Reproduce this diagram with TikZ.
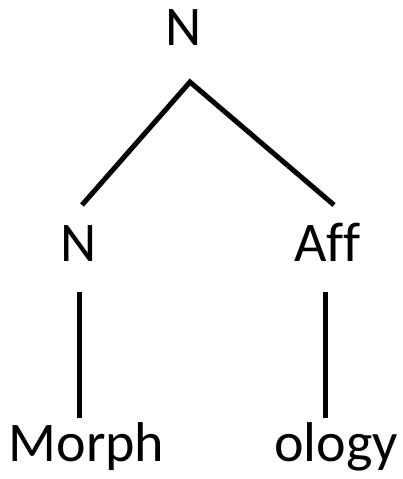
\documentclass[tikz,border=0pt]{standalone}
\usepackage{fontspec}
\setmainfont[Ligatures=NoCommon]{Carlito}
\begin{document}
\begin{tikzpicture}[x=1pt,y=1pt,
  lbl/.style={anchor=base,inner sep=0pt,font=\fontsize{56}{60}\selectfont},
  edge/.style={line width=5pt}]
\useasboundingbox (0,0) rectangle (402,479);
\node[lbl] (top) at (183.5,433) {N};
\node[lbl] (n1) at (78.5,217) {N};
\node[lbl] (aff) at (327.5,217) {Af\kern0ptf};
\node[lbl] (morph) at (86.5,17) {Morph};
\node[lbl] (ology) at (336,17) {ology};
\coordinate (apex) at (190,397);
\coordinate (l1) at (82,274);
\coordinate (r1) at (334,274);
\coordinate (lv1) at (79,187);
\coordinate (lv2) at (79,61);
\coordinate (rv1) at (325,187);
\coordinate (rv2) at (325,61);
\draw[edge] (l1) -- (apex) -- (r1);
\draw[edge] (lv1) -- (lv2);
\draw[edge] (rv1) -- (rv2);
\end{tikzpicture}
\end{document}
